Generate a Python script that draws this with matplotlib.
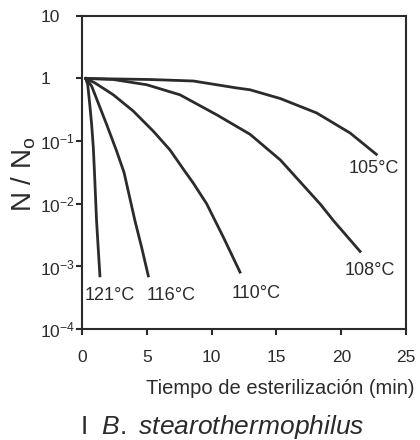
# Curvas de supervivencia de B. stearothermophilus a distintas temperaturas

import matplotlib.pyplot as plt

plt.rcParams['font.family'] = ['Liberation Sans', 'DejaVu Sans']
plt.rcParams['mathtext.fontset'] = 'custom'
plt.rcParams['mathtext.rm'] = 'Liberation Sans'
plt.rcParams['mathtext.it'] = 'Liberation Sans:italic'

# puntos: tiempo (min) y log10(N/No)
t_121 = [0.3, 0.45, 0.6, 0.75, 0.88, 0.97, 1.13, 1.27, 1.39]
l_121 = [0, -0.1, -0.4, -0.73, -1.1, -1.5, -2.27, -2.75, -3.15]

t_116 = [0.3, 0.75, 1.39, 1.9, 2.68, 3.25, 4.09, 4.6, 5.12]
l_116 = [0, -0.12, -0.46, -0.73, -1.16, -1.5, -2.27, -2.69, -3.15]

t_110 = [0.3, 1.0, 2.42, 3.96, 5.5, 6.79, 7.9, 8.59, 9.62, 10.9, 12.19]
l_110 = [0, -0.07, -0.26, -0.52, -0.84, -1.14, -1.47, -1.67, -2.0, -2.53, -3.09]

t_108 = [0.3, 2.42, 5.0, 7.56, 10.4, 12.96, 15.3, 18.4, 19.4, 21.45]
l_108 = [0, -0.016, -0.1, -0.26, -0.58, -0.89, -1.3, -2.01, -2.27, -2.76]

t_105 = [0.3, 5.25, 8.59, 11.9, 12.96, 15.3, 18.1, 20.68, 22.7]
l_105 = [0, -0.016, -0.04, -0.15, -0.18, -0.32, -0.55, -0.87, -1.21]

nombres = ["121°C", "116°C", "110°C", "108°C", "105°C"]
x_nombre = [2.15, 6.9, 13.4, 22.2, 22.5]
y_nombre = [-3.46, -3.46, -3.43, -3.06, -1.44]

x_ticks = [0, 5, 10, 15, 20, 25]
y_ticks = [1e-4, 1e-3, 1e-2, 1e-1, 1, 10]
y_labels = ["10$^{-4}$", "10$^{-3}$", "10$^{-2}$", "10$^{-1}$", "1", "10"]

color = "#2b2b2b"

fig = plt.figure(figsize=(4.2, 4.4), dpi=100)
ax = fig.add_axes([0.195, 0.252, 0.772, 0.712])

series = [(t_121, l_121), (t_116, l_116), (t_110, l_110), (t_108, l_108), (t_105, l_105)]
for (t, l), nombre, tx, ty in zip(series, nombres, x_nombre, y_nombre):
    ax.plot(t, [10**v for v in l], color=color, lw=2.0, solid_joinstyle="round")
    ax.text(tx, 10**ty, nombre, fontsize=13, color=color, ha="center", va="center")

ax.set_yscale("log")
ax.set_xlim(0, 25)
ax.set_ylim(1e-4, 10)
ax.set_xticks(x_ticks)
ax.set_yticks(y_ticks)
ax.set_yticklabels(y_labels)
ax.minorticks_off()
ax.tick_params(axis="both", direction="out", length=4, width=1.5, colors=color,
               labelsize=12.5, labelcolor=color)
ax.tick_params(axis="x", pad=11)
ax.tick_params(axis="y", pad=26)
for lab in ax.get_yticklabels():
    lab.set_horizontalalignment("left")
for s in ax.spines.values():
    s.set_linewidth(1.5)
    s.set_color(color)

fig.text(24 / 420, 1 - 174 / 440, "N / N$_\\mathrm{o}$", fontsize=20, color=color,
         rotation=90, ha="center", va="center")
fig.text(415 / 420, 1 - 388 / 440, "Tiempo de esterilización (min)", fontsize=14.5,
         color=color, ha="right", va="center")
fig.text(80 / 420, 1 - 427 / 440, "I  $\\mathit{B.\\ stearothermophilus}$", fontsize=19,
         color=color, ha="left", va="center")

fig.savefig("out.png", dpi=100)
